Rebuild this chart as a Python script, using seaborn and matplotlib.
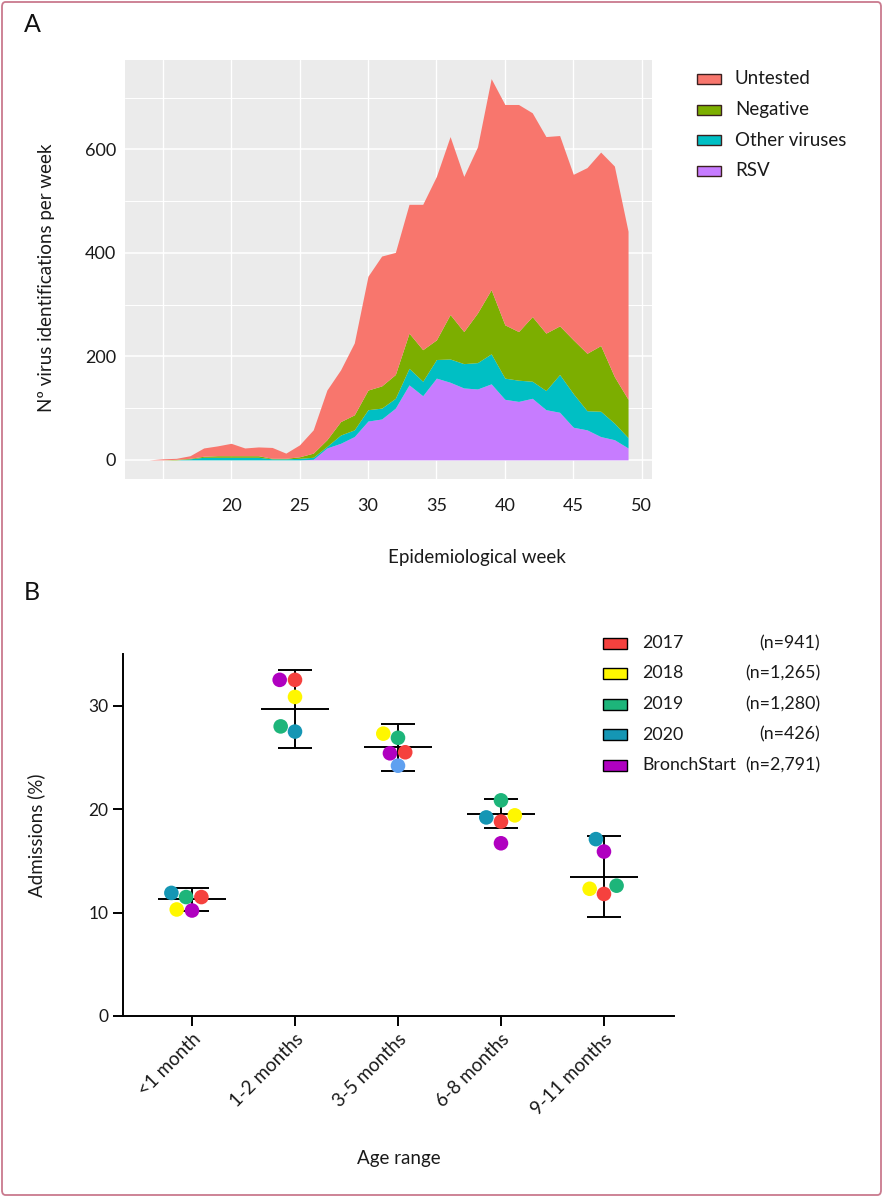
import numpy as np
import pandas as pd
import matplotlib
matplotlib.use("Agg")
import matplotlib.pyplot as plt
from matplotlib.patches import Rectangle, FancyBboxPatch
import seaborn as sns

# ---------------------------------------------------------------- data, panel A
weeks = list(range(14, 50))
rsv = [0, 0, 0, 0, 0, 0, 0, 0, 0, 0, 0, 0, 1, 23, 32, 45, 75, 79, 100, 145,
       124, 158, 150, 139, 137, 147, 117, 113, 119, 97, 92, 63, 58, 45, 39, 23]
other_viruses = [0, 0, 0, 2, 5, 5, 5, 5, 5, 2, 2, 3, 4, 3, 16, 13, 22, 21, 19, 32,
                 28, 36, 45, 47, 51, 58, 41, 41, 33, 37, 73, 65, 37, 49, 32, 20]
negative = [0, 0, 1, 1, 2, 3, 3, 3, 3, 1, 1, 3, 8, 13, 26, 29, 38, 43, 46, 68,
            61, 38, 86, 62, 96, 124, 103, 94, 125, 111, 94, 104, 111, 127, 90, 74]
untested = [0, 2, 2, 5, 16, 19, 24, 15, 17, 21, 10, 23, 45, 96, 100, 139, 220, 251, 236, 249,
            281, 316, 344, 300, 321, 408, 426, 439, 394, 380, 368, 320, 359, 374, 407, 325]

area_labels = ["RSV", "Other viruses", "Negative", "Untested"]
area_colors = ["#C77CFF", "#00BFC4", "#7CAE00", "#F8766D"]

# ---------------------------------------------------------------- data, panel B
age_groups = ["<1 month", "1-2 months", "3-5 months", "6-8 months", "9-11 months"]
y2017 = [11.5, 32.5, 25.5, 18.8, 11.8]
y2018 = [10.3, 30.85, 27.3, 19.4, 12.3]
y2019 = [11.5, 28.0, 26.9, 20.85, 12.6]
y2020 = [11.9, 27.5, 24.2, 19.2, 17.1]
bronchstart = [10.2, 32.5, 25.4, 16.7, 15.9]

series_names = ["2017", "2018", "2019", "2020", "BronchStart"]
series_n = ["(n=941)", "(n=1,265)", "(n=1,280)", "(n=426)", "(n=2,791)"]
series_colors = ["#F5413E", "#FFF700", "#1DB57A", "#1596B4", "#B000C0"]
odd_dot = ("2020", "3-5 months")   # this one is drawn lighter blue in the original
odd_color = "#5FA0F0"

rows = []
for name, vals in zip(series_names, [y2017, y2018, y2019, y2020, bronchstart]):
    for grp, v in zip(age_groups, vals):
        dot = name + "*" if (name, grp) == odd_dot else name
        rows.append({"age": grp, "series": name, "dot": dot, "value": v})
adm_df = pd.DataFrame(rows)

dot_palette = dict(zip(series_names, series_colors))
dot_palette[odd_dot[0] + "*"] = odd_color

# mean and 95% CI over the four seasons 2017-2020
years_only = adm_df[adm_df["series"] != "BronchStart"]
stats = years_only.groupby("age", sort=False)["value"].agg(["mean", "std", "count"]).reindex(age_groups)
t_975_3 = 3.182
stats["ci"] = t_975_3 * stats["std"] / np.sqrt(stats["count"])

# ---------------------------------------------------------------- figure
sns.set_theme(style="white")
plt.rcParams["font.family"] = ["Lato", "DejaVu Sans"]

W, H = 885, 1200
fig = plt.figure(figsize=(W / 100, H / 100), dpi=100)


def fx(px):
    return px / W


def fy(py):
    return 1 - py / H


# outer pink frame
fig.add_artist(FancyBboxPatch((fx(2), fy(1195)), fx(881) - fx(2), fy(2) - fy(1195),
                              boxstyle="round,pad=0,rounding_size=0.004",
                              transform=fig.transFigure, facecolor="none",
                              edgecolor="#C97A8E", linewidth=1.3))

fig.text(fx(32), fy(25), "A", fontsize=18, ha="center", va="center", color="#111111")
fig.text(fx(32), fy(592), "B", fontsize=18, ha="center", va="center", color="#111111")

# ---------------------------------------------------------------- panel A
ax_a = fig.add_axes([fx(125), fy(479), fx(652) - fx(125), fy(60) - fy(479)])
ax_a.set_facecolor("#EBEBEB")
ax_a.stackplot(weeks, rsv, other_viruses, negative, untested,
               colors=area_colors, labels=area_labels, linewidth=0, zorder=2)
ax_a.set_xlim(12.25, 50.75)
ax_a.set_ylim(-37, 773)
for gx in range(15, 51, 5):
    ax_a.axvline(gx, color="white", lw=1.0, zorder=1)
for gy in range(0, 701, 100):
    ax_a.axhline(gy, color="white", lw=1.1 if gy % 200 == 0 else 0.7, zorder=1)
ax_a.set_xticks(range(20, 51, 5))
ax_a.set_yticks([0, 200, 400, 600])
for s in ax_a.spines.values():
    s.set_visible(False)
ax_a.tick_params(axis="both", length=2.5, width=0.8, color="#555555",
                 labelsize=13, labelcolor="#1A1A1A", pad=4)
ax_a.tick_params(axis="x", pad=11)
ax_a.set_xlabel("Epidemiological week", fontsize=13.5, color="#1A1A1A")
ax_a.xaxis.set_label_coords((477 - 125) / 527, (479 - 549) / 419)
ax_a.set_ylabel("Nº virus identifications per week", fontsize=13.5, color="#1A1A1A")
ax_a.yaxis.set_label_coords((55 - 125) / 527, (479 - 278) / 419)

# legend A, drawn by hand to keep the ggplot look
for i, (lab, col) in enumerate(zip(area_labels[::-1], area_colors[::-1])):
    yc = 79 + i * 30.6
    fig.add_artist(Rectangle((fx(697), fy(yc + 5)), fx(24), 10 / H, transform=fig.transFigure,
                             facecolor=col, edgecolor="#3A2020", linewidth=1.0))
    fig.text(fx(735), fy(yc), lab, fontsize=13.5, ha="left", va="center", color="#1A1A1A")

# ---------------------------------------------------------------- panel B
ax_b = fig.add_axes([fx(123), fy(1016), fx(674) - fx(123), fy(654) - fy(1016)])
ax_b.set_facecolor("white")

sns.swarmplot(data=adm_df, x="age", y="value", hue="dot", order=age_groups,
              palette=dot_palette, size=10.5, linewidth=0, legend=False,
              ax=ax_b, zorder=3)

for i, grp in enumerate(age_groups):
    m = stats.loc[grp, "mean"]
    c = stats.loc[grp, "ci"]
    ax_b.vlines(i, m - c, m + c, color="black", lw=1.4, zorder=1)
    ax_b.hlines([m - c, m + c], i - 0.165, i + 0.165, color="black", lw=1.4, zorder=1)
    ax_b.hlines(m, i - 0.33, i + 0.33, color="black", lw=1.4, zorder=1)

ax_b.set_xlim(-0.67, 4.68)
ax_b.set_ylim(0, 35)
ax_b.set_yticks([0, 10, 20, 30])
for side in ["top", "right"]:
    ax_b.spines[side].set_visible(False)
for side in ["left", "bottom"]:
    ax_b.spines[side].set_color("black")
    ax_b.spines[side].set_linewidth(1.4)
ax_b.tick_params(axis="both", direction="out", length=7, width=1.4, color="black",
                 labelsize=12.5, labelcolor="#1A1A1A", left=True, bottom=True)
plt.setp(ax_b.get_xticklabels(), rotation=45, ha="right", rotation_mode="anchor", fontsize=13.5)
ax_b.set_xlabel("Age range", fontsize=13.5, color="#1A1A1A")
ax_b.xaxis.set_label_coords(0.5, (1016 - 1150) / 362)
ax_b.set_ylabel("Admissions (%)", fontsize=13.5, color="#1A1A1A")
ax_b.yaxis.set_label_coords((45 - 123) / 551, 0.5)
ax_b.grid(False)

# legend B with right-aligned counts
for i, (name, n, col) in enumerate(zip(series_names, series_n, series_colors)):
    yc = 643 + i * 30.5
    fig.add_artist(Rectangle((fx(603), fy(yc + 5.5)), fx(24), 11 / H, transform=fig.transFigure,
                             facecolor=col, edgecolor="black", linewidth=1.0))
    fig.text(fx(642), fy(yc), name, fontsize=12.8, ha="left", va="center", color="#1A1A1A")
    fig.text(fx(820), fy(yc), n, fontsize=12.8, ha="right", va="center", color="#1A1A1A")

fig.savefig("out.png", dpi=100, facecolor="white")
